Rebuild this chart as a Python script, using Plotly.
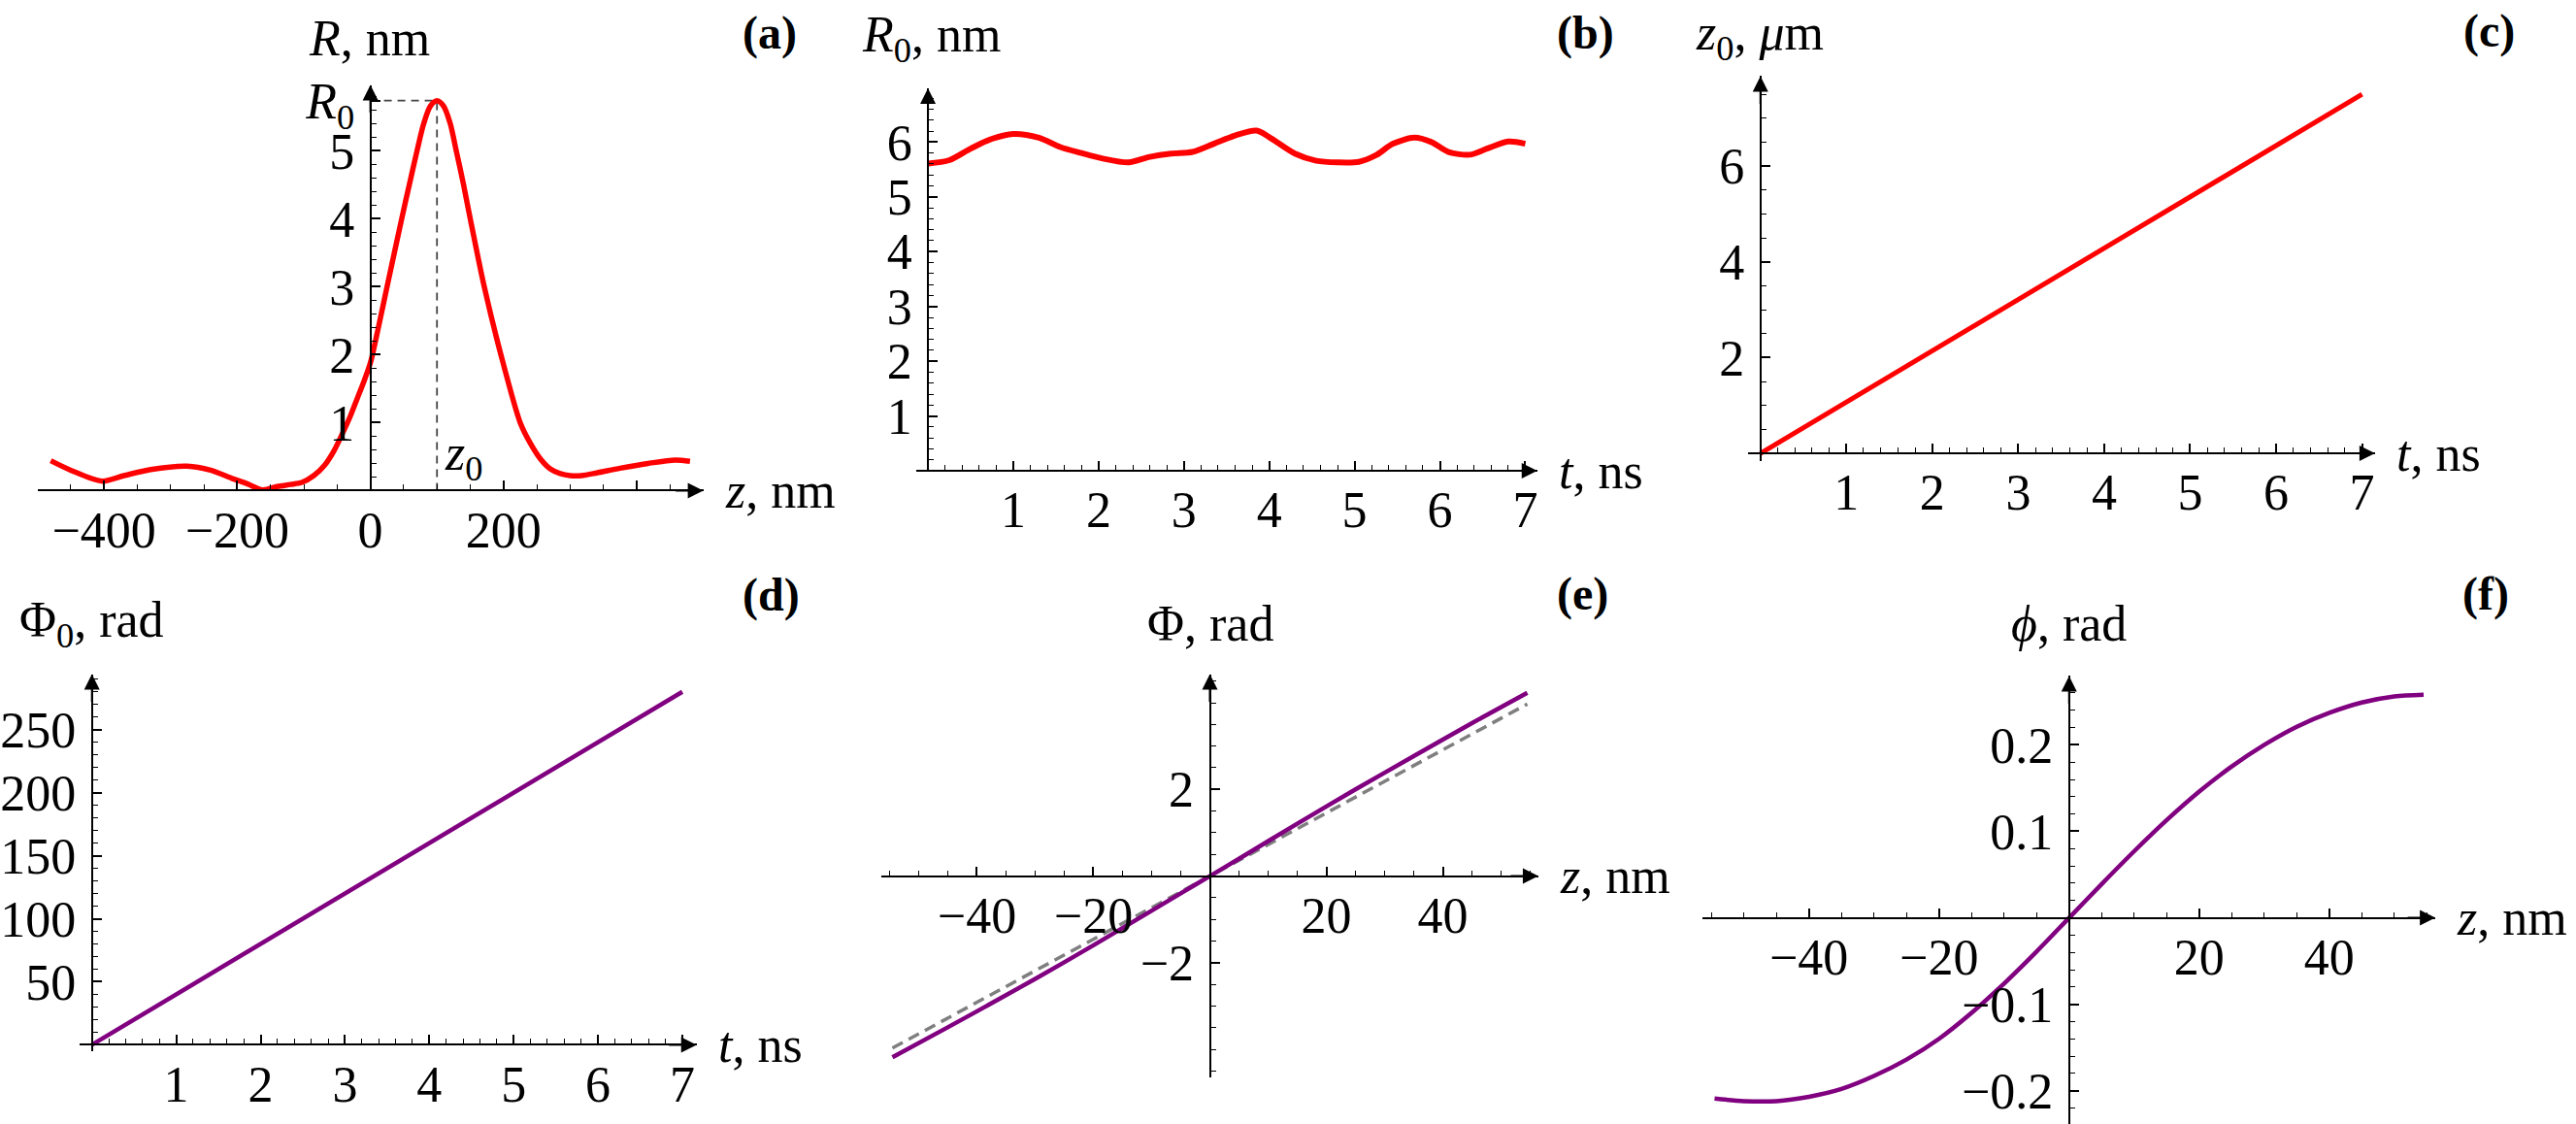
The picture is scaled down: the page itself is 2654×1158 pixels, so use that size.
import numpy as np
import plotly.graph_objects as go

W, H = 2654, 1158

# ---------------- data ----------------
# (a) R(z), nm
a_z = [-480, -450, -403, -370, -330, -275, -240, -208, -185, -162, -140, -120, -103, -85, -69, -55,
       -42, -30, -20, -10, 0, 12, 25, 47, 60, 70, 80, 90, 100, 110, 120, 129, 140, 150, 171, 196, 225,
       240, 255, 270, 285, 300, 317, 340, 375, 417, 458, 480]
a_R = [0.44, 0.30, 0.14, 0.22, 0.31, 0.36, 0.30, 0.18, 0.10, 0.01, 0.06, 0.09, 0.12, 0.22, 0.37, 0.58,
       0.84, 1.10, 1.35, 1.60, 1.88, 2.40, 3.00, 4.00, 4.57, 5.00, 5.40, 5.66, 5.74, 5.66, 5.40, 5.00,
       4.50, 4.00, 3.00, 2.00, 1.00, 0.70, 0.47, 0.32, 0.25, 0.22, 0.22, 0.26, 0.33, 0.40, 0.45, 0.43]
a_z0 = 100
a_R0 = 5.74

# (b) R0(t), nm
b_t = [0, 0.25, 0.5, 0.75, 1.0, 1.3, 1.55, 1.8, 2.05, 2.35, 2.6, 2.85, 3.1, 3.35, 3.6, 3.85, 4.0,
       4.3, 4.55, 4.8, 5.05, 5.25, 5.45, 5.7, 5.9, 6.1, 6.35, 6.55, 6.8, 7.0]
b_R0 = [5.61, 5.67, 5.88, 6.06, 6.15, 6.08, 5.91, 5.80, 5.70, 5.63, 5.73, 5.79, 5.82, 5.97, 6.12,
        6.21, 6.09, 5.79, 5.66, 5.63, 5.64, 5.76, 5.97, 6.08, 6.00, 5.82, 5.77, 5.88, 6.01, 5.97]

# (c) z0(t), um
c_t = [0, 1, 2, 3, 4, 5, 6, 7]
c_z0 = [0, 1.07, 2.14, 3.21, 4.28, 5.35, 6.42, 7.50]

# (d) Phi0(t), rad
d_t = [0, 1, 2, 3, 4, 5, 6, 7]
d_Phi0 = [0, 40, 80, 120, 160, 200, 240, 280]

# (e) Phi(z), rad  (solid) and linear reference (dashed)
e_z = [-54.5, -45, -35, -25, -15, -5, 0, 5, 15, 25, 35, 45, 54.5]
e_Phi = [-4.18, -3.49, -2.75, -1.99, -1.20, -0.40, 0, 0.40, 1.21, 2.00, 2.77, 3.53, 4.23]
e_zlin = [-54.5, 54.5]
e_Philin = [-3.97, 3.97]

# (f) phi(z), rad
f_z = [-54.5, -50, -45, -40, -35, -30, -25, -20, -15, -10, -5, 0, 5, 10, 15, 20, 25, 30, 35, 40, 45, 50, 54.5]
f_phi = [-0.209, -0.212, -0.212, -0.207, -0.198, -0.183, -0.164, -0.140, -0.110, -0.076, -0.039, 0,
         0.039, 0.077, 0.113, 0.146, 0.175, 0.200, 0.221, 0.237, 0.249, 0.256, 0.258]

# tick labels
a_xticks = [-400, -200, 0, 200, 400]
a_xticklabels = ["\u2212400", "\u2212200", "0", "200", ""]
a_yticks = [1, 2, 3, 4, 5, a_R0]
a_yticklabels = ["1", "2", "3", "4", "5", "<i>R</i><sub>0</sub>"]
t_ticks = [1, 2, 3, 4, 5, 6, 7]
b_yticks = [1, 2, 3, 4, 5, 6]
c_yticks = [2, 4, 6]
d_yticks = [50, 100, 150, 200, 250]
z_ticks = [-40, -20, 20, 40]
e_yticks = [-2, 2]
f_yticks = [-0.2, -0.1, 0.1, 0.2]
f_yticklabels = ["\u22120.2", "\u22120.1", "0.1", "0.2"]

# ---------------- styling ----------------
FONT = "Liberation Serif, Times New Roman, serif"
RED = "#ff0000"
PURPLE = "#800080"
GRAY = "#7f7f7f"
TICKFONT = 52
LABELFONT = 52

fig = go.Figure()
layout = dict(width=W, height=H, autosize=False, margin=dict(l=0, r=0, t=0, b=0, pad=0),
              paper_bgcolor="white", plot_bgcolor="rgba(0,0,0,0)", showlegend=False)
annotations = []


def minor_vals(start, stop, step, majors):
    vals = np.round(np.arange(start, stop + step / 2, step), 6)
    return [float(v) for v in vals if all(abs(v - m) > step / 10 for m in majors) and abs(v) > step / 10]


def setup(i, xr, px, yr, py, xtv, xtt, xmin, ytv, ytt, ymin, xtitle, ytitle, ytitle_c, plabel, plabel_c):
    xs = "" if i == 1 else str(i)
    xref, yref = "x" + xs, "y" + xs
    pxl, pxr = px
    pyt, pyb = py
    y0px = pyb - (0 - yr[0]) / (yr[1] - yr[0]) * (pyb - pyt)
    x0px = pxl + (0 - xr[0]) / (xr[1] - xr[0]) * (pxr - pxl)
    common = dict(showline=True, linecolor="black", linewidth=2, showgrid=False, zeroline=False,
                  ticks="inside", ticklen=9, tickwidth=1.6, tickcolor="black", tickmode="array",
                  tickfont=dict(family=FONT, size=TICKFONT, color="black"), fixedrange=True,
                  anchor="free", layer="above traces", ticklabeloverflow="allow")
    layout["xaxis" + xs] = dict(common, domain=[pxl / W, pxr / W], range=xr, position=1 - y0px / H,
                                tickvals=xtv, ticktext=xtt, ticklabelstandoff=-5,
                                minor=dict(tickmode="array", tickvals=xmin, ticks="inside", ticklen=5,
                                           tickwidth=1.3, tickcolor="black"))
    layout["yaxis" + xs] = dict(common, domain=[1 - pyb / H, 1 - pyt / H], range=yr, position=x0px / W,
                                tickvals=ytv, ticktext=ytt, ticklabelstandoff=5,
                                minor=dict(tickmode="array", tickvals=ymin, ticks="inside", ticklen=5,
                                           tickwidth=1.3, tickcolor="black"))
    # arrow heads
    annotations.append(dict(x=xr[1], y=0, xref=xref, yref=yref, ax=-30, ay=0, text="", showarrow=True,
                            arrowhead=2, arrowsize=1.6, arrowwidth=2, arrowcolor="black"))
    annotations.append(dict(x=0, y=yr[1], xref=xref, yref=yref, ax=0, ay=30, text="", showarrow=True,
                            arrowhead=2, arrowsize=1.6, arrowwidth=2, arrowcolor="black"))
    # x title to the right of the arrow
    annotations.append(dict(x=(pxr + 20) / W, y=1 - y0px / H, xref="paper", yref="paper", text=xtitle,
                            showarrow=False, xanchor="left", yanchor="middle",
                            font=dict(family=FONT, size=LABELFONT, color="black")))
    # y title above the arrow
    annotations.append(dict(x=ytitle_c[0] / W, y=1 - ytitle_c[1] / H, xref="paper", yref="paper", text=ytitle,
                            showarrow=False, xanchor="center", yanchor="middle",
                            font=dict(family=FONT, size=LABELFONT, color="black")))
    # panel label
    annotations.append(dict(x=plabel_c[0] / W, y=1 - plabel_c[1] / H, xref="paper", yref="paper",
                            text="<b>" + plabel + "</b>", showarrow=False, xanchor="center", yanchor="middle",
                            font=dict(family=FONT, size=48, color="black")))
    return xref, yref


# (a)
xa, ya = setup(1, [-500, 500], (28.7, 717.6), [0, 5.97], (76.4, 498.6),
               a_xticks, a_xticklabels, minor_vals(-450, 450, 50, a_xticks),
               a_yticks, a_yticklabels, minor_vals(0.2, 5.8, 0.2, a_yticks),
               "<i>z</i>, nm", "<i>R</i>, nm", (372, 28), "(a)", (786, 22))
fig.add_trace(go.Scatter(x=[0, a_z0], y=[a_R0, a_R0], mode="lines", xaxis=xa, yaxis=ya,
                         line=dict(color="#444444", width=1.8, dash="8px,6px"), hoverinfo="skip"))
fig.add_trace(go.Scatter(x=[a_z0, a_z0], y=[0, a_R0], mode="lines", xaxis=xa, yaxis=ya,
                         line=dict(color="#444444", width=1.8, dash="8px,6px"), hoverinfo="skip"))
fig.add_trace(go.Scatter(x=a_z, y=a_R, mode="lines", xaxis=xa, yaxis=ya,
                         line=dict(color=RED, width=5.5, shape="spline", smoothing=0.8)))
annotations.append(dict(x=a_z0 + 8, y=0.5, xref=xa, yref=ya, text="<i>z</i><sub>0</sub>", showarrow=False,
                        xanchor="left", yanchor="middle", font=dict(family=FONT, size=LABELFONT, color="black")))

# (b)
xb, yb = setup(2, [-0.143, 7.14], (937.4, 1580.3), [0, 6.98], (79.9, 478.0),
               t_ticks, [str(v) for v in t_ticks], minor_vals(0.2, 7.0, 0.2, t_ticks),
               b_yticks, [str(v) for v in b_yticks], minor_vals(0.2, 6.8, 0.2, b_yticks),
               "<i>t</i>, ns", "<i>R</i><sub>0</sub>, nm", (953, 28), "(b)", (1630, 22))
fig.add_trace(go.Scatter(x=b_t, y=b_R0, mode="lines", xaxis=xb, yaxis=yb,
                         line=dict(color=RED, width=6, shape="spline", smoothing=0.8)))

# (c)
xc, yc = setup(3, [-0.14, 7.15], (1798.8, 2447.0), [-0.17, 7.88], (67.1, 468.3),
               t_ticks, [str(v) for v in t_ticks], minor_vals(0.2, 7.0, 0.2, t_ticks),
               c_yticks, [str(v) for v in c_yticks], minor_vals(0.5, 7.5, 0.5, c_yticks),
               "<i>t</i>, ns", "<i>z</i><sub>0</sub>, <i>\u03bc</i>m", (1811, 26), "(c)", (2565, 20))
fig.add_trace(go.Scatter(x=c_t, y=c_z0, mode="lines", xaxis=xc, yaxis=yc,
                         line=dict(color=RED, width=5)))

# (d)
xd, yd = setup(4, [-0.152, 7.17], (71.8, 710.7), [-5.3, 294], (689.7, 1082.5),
               t_ticks, [str(v) for v in t_ticks], minor_vals(0.2, 7.0, 0.2, t_ticks),
               d_yticks, [str(v) for v in d_yticks], minor_vals(10, 290, 10, d_yticks),
               "<i>t</i>, ns", "\u03a6<sub>0</sub>, rad", (85, 637), "(d)", (788, 607))
fig.add_trace(go.Scatter(x=d_t, y=d_Phi0, mode="lines", xaxis=xd, yaxis=yd,
                         line=dict(color=PURPLE, width=4.5)))

# (e)
xe, ye = setup(5, [-56.4, 56.4], (901.8, 1581.5), [-4.64, 4.66], (689.7, 1109.2),
               z_ticks, ["\u221240", "\u221220", "20", "40"], minor_vals(-55, 55, 5, z_ticks),
               e_yticks, ["\u22122", "2"], minor_vals(-4.5, 4.5, 0.5, e_yticks),
               "<i>z</i>, nm", "\u03a6, rad", (1242, 637), "(e)", (1627, 606))
fig.add_trace(go.Scatter(x=e_zlin, y=e_Philin, mode="lines", xaxis=xe, yaxis=ye,
                         line=dict(color=GRAY, width=3.5, dash="12px,7px")))
fig.add_trace(go.Scatter(x=e_z, y=e_Phi, mode="lines", xaxis=xe, yaxis=ye,
                         line=dict(color=PURPLE, width=4.5, shape="spline", smoothing=0.6)))

# (f)
xf, yf = setup(6, [-56.3, 56.3], (1751.7, 2509.5), [-0.2385, 0.2797], (691.6, 1158),
               z_ticks, ["\u221240", "\u221220", "20", "40"], minor_vals(-55, 55, 5, z_ticks),
               f_yticks, f_yticklabels, minor_vals(-0.22, 0.26, 0.02, f_yticks),
               "<i>z</i>, nm", "<i>\u03d5</i>, rad", (2130, 637), "(f)", (2562, 606))
fig.add_trace(go.Scatter(x=f_z, y=f_phi, mode="lines", xaxis=xf, yaxis=yf,
                         line=dict(color=PURPLE, width=4.5, shape="spline", smoothing=0.8)))

layout["annotations"] = annotations
fig.update_layout(**layout)
fig.write_html("out.html")
